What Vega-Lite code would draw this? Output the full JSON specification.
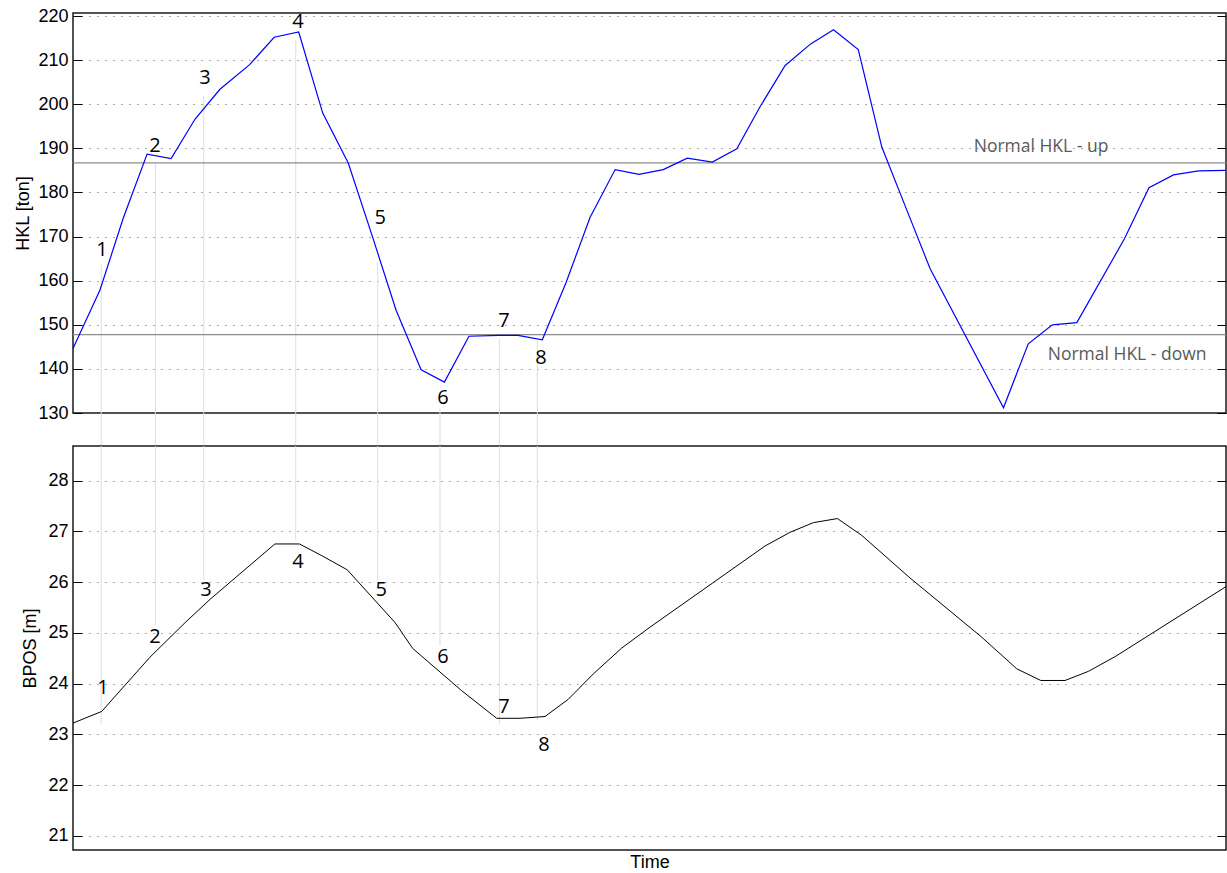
{
  "$schema": "https://vega.github.io/schema/vega-lite/v6.json",
  "background": "white",
  "padding": {"left": 14, "top": 6, "right": 1, "bottom": 4},
  "autosize": {"type": "pad"},
  "bounds": "flush",
  "spacing": 33,
  "config": {
    "view": {"stroke": "#1a1a1a", "strokeWidth": 1.5},
    "axis": {
      "labelFont": "Liberation Sans", "titleFont": "Liberation Sans",
      "labelFontSize": 18, "titleFontSize": 18,
      "labelColor": "#000", "titleColor": "#000", "titleFontWeight": "normal",
      "domain": false, "gridColor": "#444", "gridDash": [1, 7], "gridWidth": 1, "gridOpacity": 0.9,
      "tickColor": "#000", "tickSize": -9, "tickWidth": 1, "labelPadding": 14
    }
  },
  "datasets": {
    "hkl": [
      {"t": 0, "v": 144.6}, {"t": 1.1, "v": 157.9}, {"t": 2.05, "v": 174.2}, {"t": 3.02, "v": 188.7},
      {"t": 4.0, "v": 187.7}, {"t": 4.97, "v": 196.6}, {"t": 5.99, "v": 203.4}, {"t": 7.2, "v": 209.0},
      {"t": 8.2, "v": 215.2}, {"t": 9.2, "v": 216.4}, {"t": 10.18, "v": 198.0}, {"t": 11.22, "v": 186.7},
      {"t": 12.2, "v": 170.1}, {"t": 13.17, "v": 153.3}, {"t": 14.19, "v": 139.8}, {"t": 15.14, "v": 137.0},
      {"t": 16.14, "v": 147.4}, {"t": 17.37, "v": 147.6}, {"t": 18.14, "v": 147.6}, {"t": 19.13, "v": 146.6},
      {"t": 20.1, "v": 159.6}, {"t": 21.08, "v": 174.4}, {"t": 22.1, "v": 185.2}, {"t": 23.07, "v": 184.1},
      {"t": 24.06, "v": 185.2}, {"t": 25.04, "v": 187.8}, {"t": 26.06, "v": 186.9}, {"t": 27.06, "v": 189.9},
      {"t": 28.0, "v": 199.4}, {"t": 29.03, "v": 208.8}, {"t": 30.07, "v": 213.7}, {"t": 31.0, "v": 216.9},
      {"t": 32.01, "v": 212.4}, {"t": 32.97, "v": 190.3}, {"t": 33.99, "v": 176.0}, {"t": 34.94, "v": 162.7},
      {"t": 37.93, "v": 131.2}, {"t": 38.94, "v": 145.7}, {"t": 39.92, "v": 150.0}, {"t": 40.92, "v": 150.5},
      {"t": 42.86, "v": 169.5}, {"t": 43.86, "v": 181.1}, {"t": 44.86, "v": 184.0}, {"t": 45.88, "v": 184.9},
      {"t": 47.0, "v": 185.0}
    ],
    "bpos": [
      {"t": 0, "v": 23.22}, {"t": 1.17, "v": 23.45}, {"t": 3.14, "v": 24.52}, {"t": 4.57, "v": 25.2},
      {"t": 5.59, "v": 25.66}, {"t": 8.23, "v": 26.75}, {"t": 9.23, "v": 26.75}, {"t": 10.14, "v": 26.52},
      {"t": 11.18, "v": 26.24}, {"t": 13.13, "v": 25.2}, {"t": 13.85, "v": 24.69}, {"t": 15.84, "v": 23.86},
      {"t": 17.27, "v": 23.315}, {"t": 18.22, "v": 23.315}, {"t": 19.24, "v": 23.35}, {"t": 20.19, "v": 23.69},
      {"t": 21.21, "v": 24.19}, {"t": 22.37, "v": 24.7}, {"t": 23.52, "v": 25.11}, {"t": 28.21, "v": 26.71},
      {"t": 29.23, "v": 26.98}, {"t": 30.18, "v": 27.17}, {"t": 31.16, "v": 27.25}, {"t": 32.15, "v": 26.92},
      {"t": 34.12, "v": 26.08}, {"t": 37.05, "v": 24.91}, {"t": 38.47, "v": 24.29}, {"t": 39.45, "v": 24.06},
      {"t": 40.44, "v": 24.06}, {"t": 41.39, "v": 24.24}, {"t": 42.48, "v": 24.53}, {"t": 47.0, "v": 25.91}
    ],
    "topLinks": [
      {"t": 1.15, "v": 163.6, "v2": 122.52}, {"t": 3.36, "v": 186.5, "v2": 122.52},
      {"t": 5.33, "v": 201.9, "v2": 122.52}, {"t": 9.08, "v": 214.6, "v2": 122.52},
      {"t": 12.42, "v": 164.2, "v2": 122.52}, {"t": 14.96, "v": 131.0, "v2": 122.52},
      {"t": 17.38, "v": 146.8, "v2": 122.52}, {"t": 18.93, "v": 146.5, "v2": 122.52}
    ],
    "botLinks": [
      {"t": 1.15, "v": 23.2, "v2": 28.68}, {"t": 3.36, "v": 25.15, "v2": 28.68},
      {"t": 5.33, "v": 26.03, "v2": 28.68}, {"t": 9.08, "v": 26.84, "v2": 28.68},
      {"t": 12.42, "v": 26.03, "v2": 28.68}, {"t": 14.96, "v": 24.75, "v2": 28.68},
      {"t": 17.38, "v": 23.2, "v2": 28.68}, {"t": 18.93, "v": 23.28, "v2": 28.68}
    ],
    "topLabels": [
      {"t": 1.18, "v": 167.0, "lab": "1"}, {"t": 3.34, "v": 190.5, "lab": "2"},
      {"t": 5.38, "v": 205.9, "lab": "3"}, {"t": 9.17, "v": 218.6, "lab": "4"},
      {"t": 12.52, "v": 174.2, "lab": "5"}, {"t": 15.08, "v": 133.4, "lab": "6"},
      {"t": 17.57, "v": 150.9, "lab": "7"}, {"t": 19.08, "v": 142.5, "lab": "8"}
    ],
    "botLabels": [
      {"t": 1.22, "v": 23.91, "lab": "1"}, {"t": 3.34, "v": 24.91, "lab": "2"},
      {"t": 5.42, "v": 25.85, "lab": "3"}, {"t": 9.17, "v": 26.39, "lab": "4"},
      {"t": 12.56, "v": 25.85, "lab": "5"}, {"t": 15.08, "v": 24.52, "lab": "6"},
      {"t": 17.57, "v": 23.53, "lab": "7"}, {"t": 19.2, "v": 22.78, "lab": "8"}
    ],
    "normals": [
      {"v": 186.7, "t": 39.46, "tv": 190.3, "lab": "Normal HKL - up"},
      {"v": 147.75, "t": 42.97, "tv": 143.15, "lab": "Normal HKL - down"}
    ]
  },
  "vconcat": [
    {
      "width": 1153,
      "height": 400,
      "resolve": {"axis": {"y": "independent"}},
      "layer": [
        {
          "data": {"name": "hkl"},
          "mark": {"type": "line", "color": "#0000ff", "strokeWidth": 1.2, "opacity": 0},
          "encoding": {
            "x": {"field": "t", "type": "quantitative", "scale": {"domain": [0, 47], "nice": false, "zero": false}, "axis": null},
            "y": {"field": "v", "type": "quantitative", "scale": {"domain": [130, 220.7], "nice": false, "zero": false}, "axis": {"title": "HKL [ton]", "titlePadding": 5, "grid": true, "values": [130, 140, 150, 160, 170, 180, 190, 200, 210, 220]}}
          }
        },
        {
          "data": {"name": "topLinks"},
          "mark": {"type": "rule", "color": "#dddddd", "strokeWidth": 1},
          "encoding": {
            "x": {"field": "t", "type": "quantitative"},
            "y": {"field": "v", "type": "quantitative", "axis": null},
            "y2": {"field": "v2"}
          }
        },
        {
          "data": {"name": "normals"},
          "mark": {"type": "rule", "color": "#8c8c8c", "strokeWidth": 1.3},
          "encoding": {
            "y": {"field": "v", "type": "quantitative", "axis": {"orient": "right", "labels": false, "grid": false, "title": null, "values": [130, 140, 150, 160, 170, 180, 190, 200, 210, 220]}}
          }
        },
        {
          "data": {"name": "normals"},
          "mark": {"type": "text", "font": "Open Sans", "fontSize": 17.5, "color": "#5a5a5a", "align": "center", "baseline": "middle"},
          "encoding": {
            "x": {"field": "t", "type": "quantitative"},
            "y": {"field": "tv", "type": "quantitative", "axis": null},
            "text": {"field": "lab"}
          }
        },
        {
          "data": {"name": "hkl"},
          "mark": {"type": "line", "color": "#0000ff", "strokeWidth": 1.2},
          "encoding": {
            "x": {"field": "t", "type": "quantitative"},
            "y": {"field": "v", "type": "quantitative", "axis": null}
          }
        },
        {
          "data": {"name": "topLabels"},
          "mark": {"type": "text", "font": "Open Sans", "fontSize": 20, "color": "#000", "align": "center", "baseline": "middle"},
          "encoding": {
            "x": {"field": "t", "type": "quantitative"},
            "y": {"field": "v", "type": "quantitative", "axis": null},
            "text": {"field": "lab"}
          }
        }
      ]
    },
    {
      "width": 1153,
      "height": 404,
      "resolve": {"axis": {"y": "independent"}},
      "layer": [
        {
          "data": {"name": "bpos"},
          "mark": {"type": "line", "color": "#000000", "strokeWidth": 1, "opacity": 0},
          "encoding": {
            "x": {"field": "t", "type": "quantitative", "scale": {"domain": [0, 47], "nice": false, "zero": false}, "axis": {"title": "Time", "labels": false, "ticks": false, "grid": false, "domain": false, "titlePadding": 3}},
            "y": {"field": "v", "type": "quantitative", "scale": {"domain": [20.72, 28.68], "nice": false, "zero": false}, "axis": {"title": "BPOS [m]", "titlePadding": 8, "grid": true, "values": [21, 22, 23, 24, 25, 26, 27, 28]}}
          }
        },
        {
          "data": {"name": "botLinks"},
          "mark": {"type": "rule", "color": "#dddddd", "strokeWidth": 1},
          "encoding": {
            "x": {"field": "t", "type": "quantitative"},
            "y": {"field": "v", "type": "quantitative", "axis": {"orient": "right", "labels": false, "grid": false, "title": null, "values": [21, 22, 23, 24, 25, 26, 27, 28]}},
            "y2": {"field": "v2"}
          }
        },
        {
          "data": {"name": "bpos"},
          "mark": {"type": "line", "color": "#000000", "strokeWidth": 1},
          "encoding": {
            "x": {"field": "t", "type": "quantitative"},
            "y": {"field": "v", "type": "quantitative", "axis": null}
          }
        },
        {
          "data": {"name": "botLabels"},
          "mark": {"type": "text", "font": "Open Sans", "fontSize": 20, "color": "#000", "align": "center", "baseline": "middle"},
          "encoding": {
            "x": {"field": "t", "type": "quantitative"},
            "y": {"field": "v", "type": "quantitative", "axis": null},
            "text": {"field": "lab"}
          }
        }
      ]
    }
  ]
}
